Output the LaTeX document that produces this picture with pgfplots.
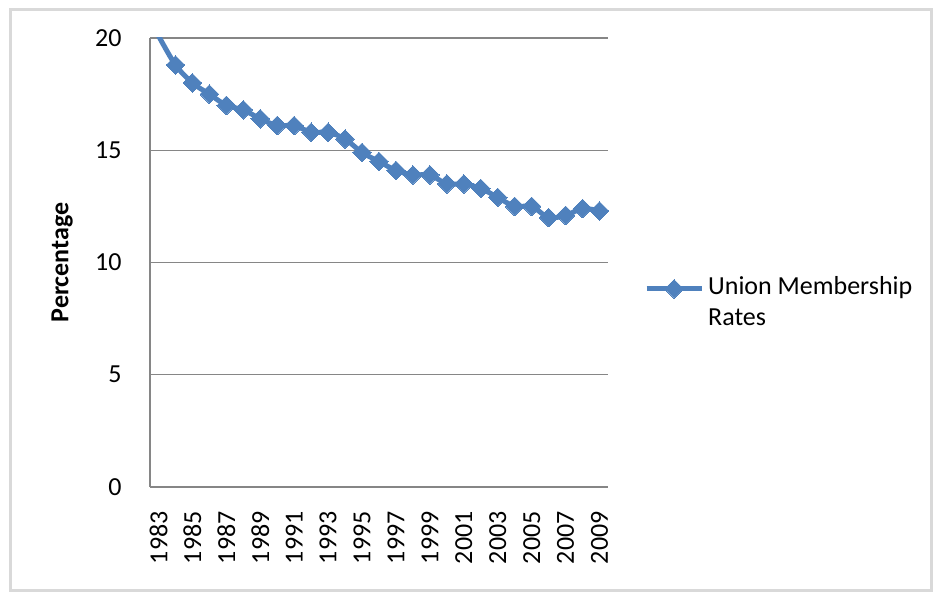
\documentclass[border=0pt]{standalone}
\usepackage{pgfplots}
\pgfplotsset{compat=1.18}
\usepackage{fontspec}
\setmainfont{Carlito}
\definecolor{xlblue}{HTML}{4F81BD}
\definecolor{gridgray}{HTML}{868686}
\definecolor{framegray}{HTML}{D9D9D9}
\begin{document}
\fontsize{13pt}{15.6pt}\selectfont
\begin{tikzpicture}
\begin{axis}[
  name=ax,
  scale only axis,
  width=229pt, height=224.5pt,
  xmin=1982.5, xmax=2009.5,
  ymin=0, ymax=20,
  xtick={1983,1985,...,2009},
  ytick={0,5,...,20},
  /pgf/number format/1000 sep={},
  /pgf/number format/assume math mode=true,
  tick label style={font=\fontsize{13pt}{15.6pt}\selectfont},
  xticklabel style={rotate=90, anchor=east, inner sep=0pt, xshift=-12pt},
  yticklabel style={anchor=east, inner sep=0pt, xshift=-14pt},
  major tick length=0pt,
  ymajorgrids,
  grid style={gridgray, line width=0.6pt},
  axis x line*=bottom, axis y line*=left,
  axis line style={gridgray, line width=0.8pt, -},
  ylabel={\bfseries Percentage},
  ylabel style={at={(axis description cs:-0.192,0.5)}, anchor=center, font=\fontsize{13pt}{15.6pt}\selectfont},
  legend style={draw=none, fill=none, at={(axis description cs:1.065,0.41)}, anchor=west,
    font=\fontsize{13pt}{15.6pt}\selectfont, nodes={align=left}},
  legend cell align=left,
  legend image code/.code={
    \draw[#1, mark repeat=2, mark phase=2] plot coordinates {(0pt,7pt) (13.75pt,7pt) (27.5pt,7pt)};
  },
]
\addplot[xlblue, line width=2.5pt, smooth, mark=square*, mark size=3.3pt,
  mark options={rotate=45, solid, fill=xlblue, line width=0pt},
  mark repeat=1, mark phase=1]
  coordinates {
  (1983,20.1) (1984,18.8) (1985,18.0) (1986,17.5) (1987,17.0) (1988,16.8)
  (1989,16.4) (1990,16.1) (1991,16.1) (1992,15.8) (1993,15.8) (1994,15.5)
  (1995,14.9) (1996,14.5) (1997,14.1) (1998,13.9) (1999,13.9) (2000,13.5)
  (2001,13.5) (2002,13.3) (2003,12.9) (2004,12.5) (2005,12.5) (2006,12.0)
  (2007,12.1) (2008,12.4) (2009,12.3)
  };
\addlegendentry{Union Membership\\Rates}
\end{axis}
\draw[framegray, line width=1.5pt] ([shift={(-69.5pt,-52pt)}]ax.south west) rectangle ([shift={(390.5pt,238.5pt)}]ax.south west);
\pgfresetboundingbox
\useasboundingbox ([shift={(-75pt,-53pt)}]ax.south west) rectangle ([shift={(391.5pt,243.5pt)}]ax.south west);
\end{tikzpicture}
\end{document}
